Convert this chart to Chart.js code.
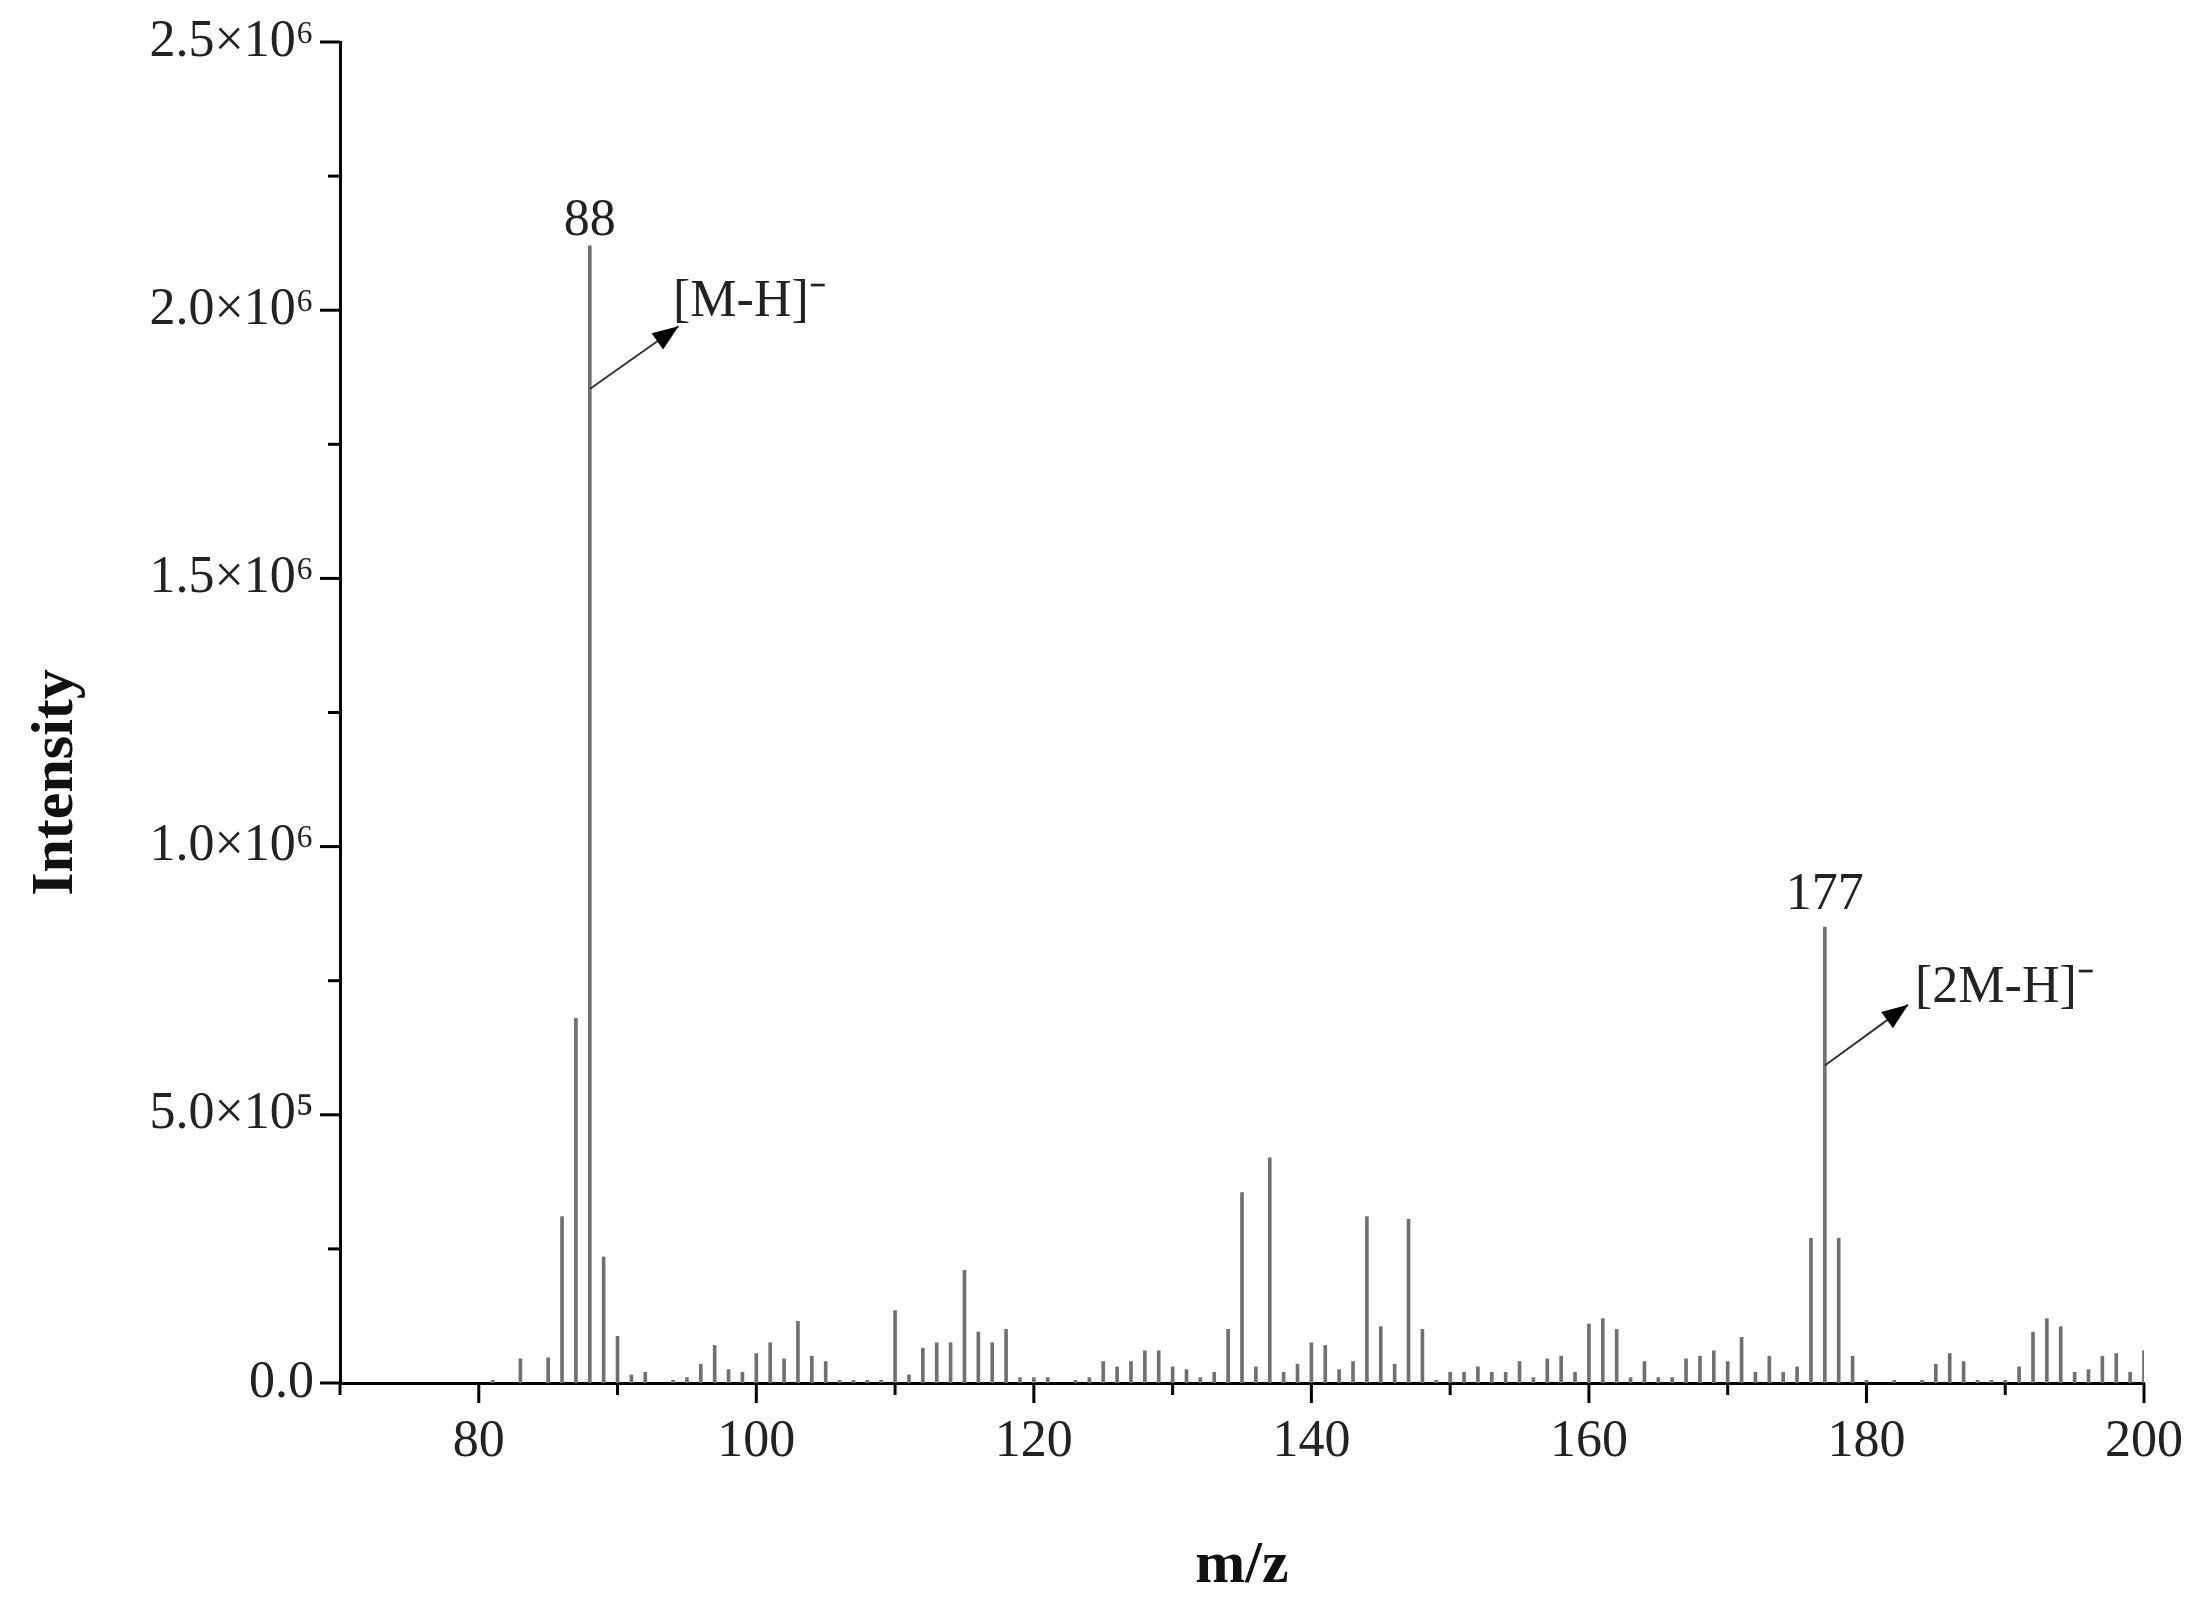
<!DOCTYPE html>
<html><head><meta charset="utf-8">
<script src="https://cdn.jsdelivr.net/npm/chart.js@4/dist/chart.umd.min.js"></script>
<style>html,body{margin:0;padding:0;background:#fff}#w{width:2208px;height:1602px}</style>
</head><body><div id="w"><canvas id="c" width="2208" height="1602"></canvas></div>
<script>
const mz = [81,83,85,86,87,88,89,90,91,92,94,95,96,97,98,99,100,101,102,103,104,105,106,107,108,109,110,111,112,113,114,115,116,117,118,119,120,121,123,124,125,126,127,128,129,130,131,132,133,134,135,136,137,138,139,140,141,142,143,144,145,146,147,148,149,150,151,152,153,154,155,156,157,158,159,160,161,162,163,164,165,166,167,168,169,170,171,172,173,174,175,176,177,178,179,180,182,184,185,186,187,188,189,190,191,192,193,194,195,196,197,198,199,200];
const intensity = [0.05,0.45,0.47,3.1,6.8,21.2,2.35,0.87,0.15,0.2,0.05,0.1,0.35,0.7,0.25,0.2,0.55,0.75,0.45,1.15,0.5,0.4,0.05,0.05,0.05,0.05,1.35,0.15,0.65,0.75,0.75,2.1,0.95,0.75,1.0,0.1,0.1,0.1,0.05,0.1,0.4,0.3,0.4,0.6,0.6,0.3,0.25,0.1,0.2,1.0,3.55,0.3,4.2,0.2,0.35,0.75,0.7,0.25,0.4,3.1,1.05,0.35,3.05,1.0,0.05,0.2,0.2,0.3,0.2,0.2,0.4,0.1,0.45,0.5,0.2,1.1,1.2,1.0,0.1,0.4,0.1,0.1,0.45,0.5,0.6,0.4,0.85,0.2,0.5,0.2,0.3,2.7,8.5,2.7,0.5,0.05,0.05,0.05,0.35,0.55,0.4,0.05,0.05,0.05,0.3,0.95,1.2,1.05,0.2,0.25,0.5,0.55,0.2,0.6].map(v=>v*1e5);
const yTickLabels = {0:'0.0',500000:'5.0×10⁵',1000000:'1.0×10⁶',1500000:'1.5×10⁶',2000000:'2.0×10⁶',2500000:'2.5×10⁶'};
const peakLabels = [{x:88,y:2.14e6,t:'88'},{x:177,y:8.84e5,t:'177'}];
const ionLabels = [{x:94.0,y:1.99e6,t:'[M-H]⁻'},{x:183.5,y:7.1e5,t:'[2M-H]⁻'}];
const arrows = [{x0:88,y0:1.853e6,x1:94.4,y1:1.97e6},{x0:177,y0:5.92e5,x1:183.0,y1:7.05e5}];

const FONT='"Liberation Serif","Times New Roman",serif';
const deco = {
  id:'deco',
  afterDraw(ch){
    const c=ch.ctx, xs=ch.scales.x, ys=ch.scales.y, a=ch.chartArea;
    c.save();
    c.strokeStyle='#000'; c.lineWidth=3;
    for(let v=70; v<=200; v+=10){
      const p=xs.getPixelForValue(v), L=(v%20===0)?20:12;
      c.beginPath(); c.moveTo(p,a.bottom); c.lineTo(p,a.bottom+L); c.stroke();
    }
    for(let v=0; v<=2.5e6; v+=2.5e5){
      const p=ys.getPixelForValue(v), L=(v%5e5===0)?20:12;
      c.beginPath(); c.moveTo(a.left,p); c.lineTo(a.left-L,p); c.stroke();
    }
    c.fillStyle='#222'; c.font='52px '+FONT; c.textAlign='center'; c.textBaseline='alphabetic';
    peakLabels.forEach(l=>c.fillText(l.t, xs.getPixelForValue(l.x), ys.getPixelForValue(l.y)));
    c.textAlign='left';
    ionLabels.forEach(l=>c.fillText(l.t, xs.getPixelForValue(l.x), ys.getPixelForValue(l.y)));
    c.strokeStyle='#333'; c.lineWidth=2; c.fillStyle='#000';
    arrows.forEach(r=>{
      const x0=xs.getPixelForValue(r.x0), y0=ys.getPixelForValue(r.y0), x1=xs.getPixelForValue(r.x1), y1=ys.getPixelForValue(r.y1);
      c.beginPath(); c.moveTo(x0,y0); c.lineTo(x1,y1); c.stroke();
      const ang=Math.atan2(y1-y0,x1-x0), h=26, w=10;
      c.beginPath(); c.moveTo(x1,y1);
      c.lineTo(x1-h*Math.cos(ang)+w*Math.sin(ang), y1-h*Math.sin(ang)-w*Math.cos(ang));
      c.lineTo(x1-h*Math.cos(ang)-w*Math.sin(ang), y1-h*Math.sin(ang)+w*Math.cos(ang));
      c.closePath(); c.fill();
    });
    c.fillStyle='#111'; c.font='bold 60px '+FONT; c.textAlign='center'; c.textBaseline='middle';
    c.fillText('m/z', (a.left+a.right)/2, 1566);
    c.save(); c.translate(56,(a.top+a.bottom)/2+70); c.rotate(-Math.PI/2); c.fillText('Intensity',0,0); c.restore();
    c.restore();
  }
};
new Chart(document.getElementById('c'),{
  type:'bar',
  data:{datasets:[{data:mz.map((m,i)=>({x:m,y:intensity[i]})),backgroundColor:'#707070',barThickness:3,borderWidth:0}]},
  options:{
    responsive:false, animation:false,
    layout:{padding:{top:42,right:64,left:0,bottom:0}},
    plugins:{legend:{display:false},tooltip:{enabled:false}},
    scales:{
      x:{type:'linear',min:70,max:200,offset:false,
        afterFit(s){s.height=219; s.paddingLeft=0; s.paddingRight=0;},
        grid:{display:false,drawTicks:false},border:{display:true,color:'#000',width:3},
        ticks:{stepSize:20,padding:28,color:'#222',font:{family:FONT,size:52},callback:v=>v>=80?v:''}},
      y:{min:0,max:2.5e6,
        afterFit(s){s.width=340; s.paddingTop=0; s.paddingBottom=0;},
        grid:{display:false,drawTicks:false},border:{display:true,color:'#000',width:3},
        ticks:{stepSize:5e5,padding:26,color:'#222',font:{family:FONT,size:52},callback:v=>yTickLabels[v]??''}}
    }
  },
  plugins:[deco]
});
</script></body></html>
